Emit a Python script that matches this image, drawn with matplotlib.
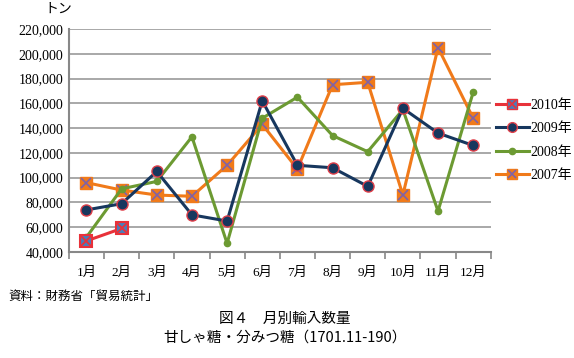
import numpy as np
import matplotlib
matplotlib.use("Agg")
import matplotlib.pyplot as plt
from matplotlib.lines import Line2D
from matplotlib.legend_handler import HandlerTuple

plt.rcParams['font.family'] = ['Liberation Serif', 'Noto Sans CJK JP', 'DejaVu Sans']

# data (tons)
months = ["1月", "2月", "3月", "4月", "5月", "6月", "7月", "8月", "9月", "10月", "11月", "12月"]
y2010 = [49000, 59000]
y2009 = [74000, 79000, 105000, 70000, 65000, 162000, 110000, 108000, 93000, 156000, 136000, 126000]
y2008 = [52000, 91000, 97000, 133000, 47000, 148000, 165000, 134000, 121000, 155000, 73000, 169000]
y2007 = [96000, 90000, 86000, 85000, 110000, 143000, 107000, 175000, 177000, 86000, 205000, 148000]
yticks = list(range(40000, 220001, 20000))

red = "#E8323A"
navy = "#17375E"
green = "#6C9A32"
orange = "#F07A1A"
purple = "#7E62A8"

fig = plt.figure(figsize=(5.74, 3.58), dpi=100)
ax = fig.add_axes([0.120, 0.296, 0.735, 0.623])

x = np.arange(len(months))

# 2007
ax.plot(x, y2007, color=orange, lw=2.2, marker="s", ms=8, mfc=orange, mec=orange, zorder=3)
ax.plot(x, y2007, ls="none", marker="x", ms=7, mec=purple, mew=1.2, zorder=3.1)
# 2008
ax.plot(x, y2008, color=green, lw=2.2, marker="o", ms=4.5, mfc=green, mec=green, zorder=4)
# 2009
ax.plot(x, y2009, color=navy, lw=2.2, marker="o", ms=8, mfc=navy, mec="#E0404A", mew=1.0, zorder=5)
# 2010
x10 = x[:len(y2010)]
ax.plot(x10, y2010, color=red, lw=2.2, marker="s", ms=8, mfc="#4A7EBB", mec=red, mew=1.5, zorder=6)
ax.plot(x10, y2010, ls="none", marker="x", ms=7, mec=red, mew=1.3, zorder=6.1)

ax.set_xlim(-0.5, 11.5)
ax.set_ylim(40000, 220000)
ax.set_yticks(yticks)
ax.set_yticklabels([f"{v:,}" for v in yticks], fontsize=10)
ax.set_xticks(x)
ax.set_xticklabels(months, fontsize=9.5)
ax.set_xticks(np.arange(-0.5, 12, 1), minor=True)
ax.tick_params(axis="x", which="major", length=0, pad=11)
ax.tick_params(axis="x", which="minor", length=5, color="#888888", width=1.2)
ax.tick_params(axis="y", length=0, pad=4)
ax.yaxis.grid(True, color="#999999", lw=1.2)
ax.set_axisbelow(True)
for s in ["top", "right"]:
    ax.spines[s].set_visible(False)
for s in ["left", "bottom"]:
    ax.spines[s].set_color("#888888")
    ax.spines[s].set_linewidth(1.5)

h2010 = (Line2D([], [], color=red, lw=2.2, marker="s", ms=7, mfc="#4A7EBB", mec=red),
         Line2D([], [], ls="none", marker="x", ms=6, mec=red, mew=1.2))
h2009 = Line2D([], [], color=navy, lw=2.2, marker="o", ms=7, mfc=navy, mec="#E0404A")
h2008 = Line2D([], [], color=green, lw=2.2, marker="o", ms=4.5, mfc=green, mec=green)
h2007 = (Line2D([], [], color=orange, lw=2.2, marker="s", ms=7, mfc=orange, mec=orange),
         Line2D([], [], ls="none", marker="x", ms=6, mec=purple, mew=1.2))
labels = ["2010年", "2009年", "2008年", "2007年"]
leg = ax.legend([h2010, h2009, h2008, h2007], labels, loc="center left",
                bbox_to_anchor=(0.995, 0.5), frameon=False, fontsize=10,
                handlelength=2.4, handletextpad=0.1, labelspacing=0.75, borderpad=0,
                handler_map={tuple: HandlerTuple(ndivide=1, pad=0)})

fig.text(0.078, 0.965, "トン", fontsize=10, family=["Noto Sans CJK JP"])
fig.text(0.014, 0.163, "資料：財務省「貿易統計」", fontsize=9, family=["Noto Sans CJK JP"])
fig.text(0.497, 0.097, "図４　月別輸入数量", fontsize=10.5, ha="center", family=["Noto Sans CJK JP"])
fig.text(0.497, 0.045, "甘しゃ糖・分みつ糖（1701.11-190）", fontsize=10.5, ha="center",
         family=["Noto Sans CJK JP"])

fig.savefig("out.png", dpi=100)
